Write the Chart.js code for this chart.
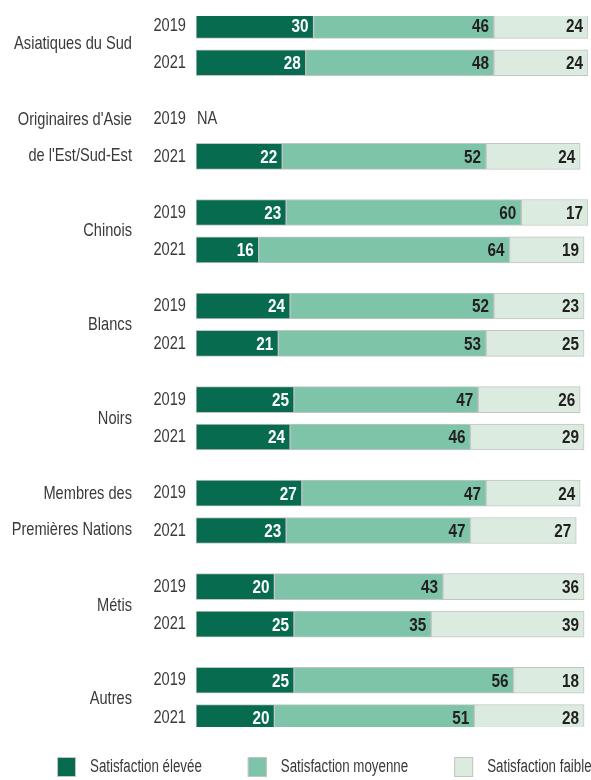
<!DOCTYPE html>
<html>
<head>
<meta charset="utf-8">
<script src="https://cdn.jsdelivr.net/npm/chart.js@4/dist/chart.umd.min.js"></script>
<style>
html,body{margin:0;padding:0;background:#fff;}
#wrap{width:591px;height:780px;position:relative;}
</style>
</head>
<body>
<div id="wrap"><canvas id="c" width="591" height="780"></canvas></div>
<script>
const groups = [
  ["Asiatiques du Sud"],
  ["Originaires d'Asie", "de l'Est/Sud-Est"],
  ["Chinois"],
  ["Blancs"],
  ["Noirs"],
  ["Membres des", "Premières Nations"],
  ["Métis"],
  ["Autres"]
];
const years = ["2019", "2021"];
const seriesNames = ["Satisfaction élevée", "Satisfaction moyenne", "Satisfaction faible"];
// values per group: [2019, 2021]; null = NA
const eleve   = [[30, 28], [null, 22], [23, 16], [24, 21], [25, 24], [27, 23], [20, 25], [25, 20]];
const moyenne = [[46, 48], [null, 52], [60, 64], [52, 53], [47, 46], [47, 47], [43, 35], [56, 51]];
const faible  = [[24, 24], [null, 24], [17, 19], [23, 25], [26, 29], [24, 27], [36, 39], [18, 28]];
const colors = ["#076b4f", "#7dc4a9", "#dcebdf"];

const FAM = "'Liberation Sans', Arial, sans-serif";
const SX = 0.77;          // horizontal condensing of text
const TEXT = '#3a3a3a';

// slot layout per group: [2019, mid, 2021, gap, gap]
const yearLabels = [], groupLabels = [], isRow = [];
const rowVals = [[], [], []];
const allSeries = [eleve, moyenne, faible];
groups.forEach((g, gi) => {
  const slots = gi === groups.length - 1 ? 3 : 5;
  for (let s = 0; s < slots; s++) {
    let yr = null;
    if (s === 0) yr = 0;
    if (s === 2) yr = 1;
    yearLabels.push(yr === null ? "" : years[yr]);
    groupLabels.push(s === 1 ? g : null);
    isRow.push(yr !== null);
    allSeries.forEach((ser, si) => rowVals[si].push(yr === null ? null : ser[gi][yr]));
  }
});

function ctext(ctx, s, x, y, align, font, sx, color) {
  ctx.save();
  ctx.font = font;
  ctx.fillStyle = color;
  ctx.textAlign = align;
  ctx.textBaseline = 'middle';
  ctx.translate(x, y);
  ctx.scale(sx, 1);
  ctx.fillText(s, 0, 0);
  ctx.restore();
}
function cwidth(ctx, s, font, sx) {
  ctx.save(); ctx.font = font; const w = ctx.measureText(s).width * sx; ctx.restore(); return w;
}

const textPlugin = {
  id: 'textPlugin',
  afterDatasetsDraw(chart) {
    const ctx = chart.ctx;
    const xs = chart.scales.x, ys = chart.scales.y;
    // value labels
    chart.data.datasets.forEach((ds, di) => {
      const meta = chart.getDatasetMeta(di);
      meta.data.forEach((el, i) => {
        const v = ds.data[i];
        if (v === null || v === undefined) return;
        ctext(ctx, String(v), el.x - 5, el.y + 1.5, 'right', "bold 18px " + FAM, 0.85,
              di === 0 ? '#ffffff' : '#231f20');
      });
    });
    // year labels + NA
    const x0 = xs.getPixelForValue(0);
    yearLabels.forEach((lab, i) => {
      if (!lab) return;
      const y = ys.getPixelForValue(i);
      ctext(ctx, lab, x0 - 10, y, 'right', "19px " + FAM, SX, TEXT);
      if (chart.data.datasets.every(ds => ds.data[i] === null)) {
        ctext(ctx, "NA", x0 + 1, y, 'left', "19px " + FAM, SX, TEXT);
      }
    });
    // group labels
    groupLabels.forEach((g, i) => {
      if (!g) return;
      const y = ys.getPixelForValue(i);
      const lh = 36;
      const n = g.length;
      g.forEach((line, k) => {
        ctext(ctx, line, 132, y + (k - (n - 1) / 2) * lh, 'right', "19px " + FAM, SX, TEXT);
      });
    });
    // legend
    let lx = 57;
    const ly = 767;
    chart.data.datasets.forEach((ds) => {
      ctx.save();
      ctx.fillStyle = ds.backgroundColor;
      ctx.fillRect(lx, ly - 10, 19, 20);
      ctx.strokeStyle = '#c4c4c4';
      ctx.lineWidth = 1;
      ctx.strokeRect(lx + 0.5, ly - 9.5, 18, 19);
      ctx.restore();
      const f = "18px " + FAM;
      ctext(ctx, ds.label, lx + 33, ly, 'left', f, 0.74, TEXT);
      lx += 33 + cwidth(ctx, ds.label, f, 0.74) + 46;
    });
  }
};

new Chart(document.getElementById('c'), {
  type: 'bar',
  data: {
    labels: yearLabels,
    datasets: seriesNames.map((n, i) => ({
      label: n,
      data: rowVals[i],
      backgroundColor: colors[i],
      borderColor: '#c4c4c4',
      borderWidth: 1,
      borderSkipped: false,
      barThickness: 26
    }))
  },
  options: {
    indexAxis: 'y',
    responsive: false,
    animation: false,
    layout: { padding: { top: 16, right: 3, left: 0, bottom: 53 } },
    scales: {
      x: { stacked: true, min: 0, max: 100, display: false },
      y: {
        stacked: true,
        grid: { display: false, drawTicks: false },
        border: { display: false },
        ticks: { display: false },
        afterFit(s) { s.width = 196; }
      }
    },
    plugins: {
      legend: { display: false },
      tooltip: { enabled: false }
    }
  },
  plugins: [textPlugin]
});
</script>
</body>
</html>
